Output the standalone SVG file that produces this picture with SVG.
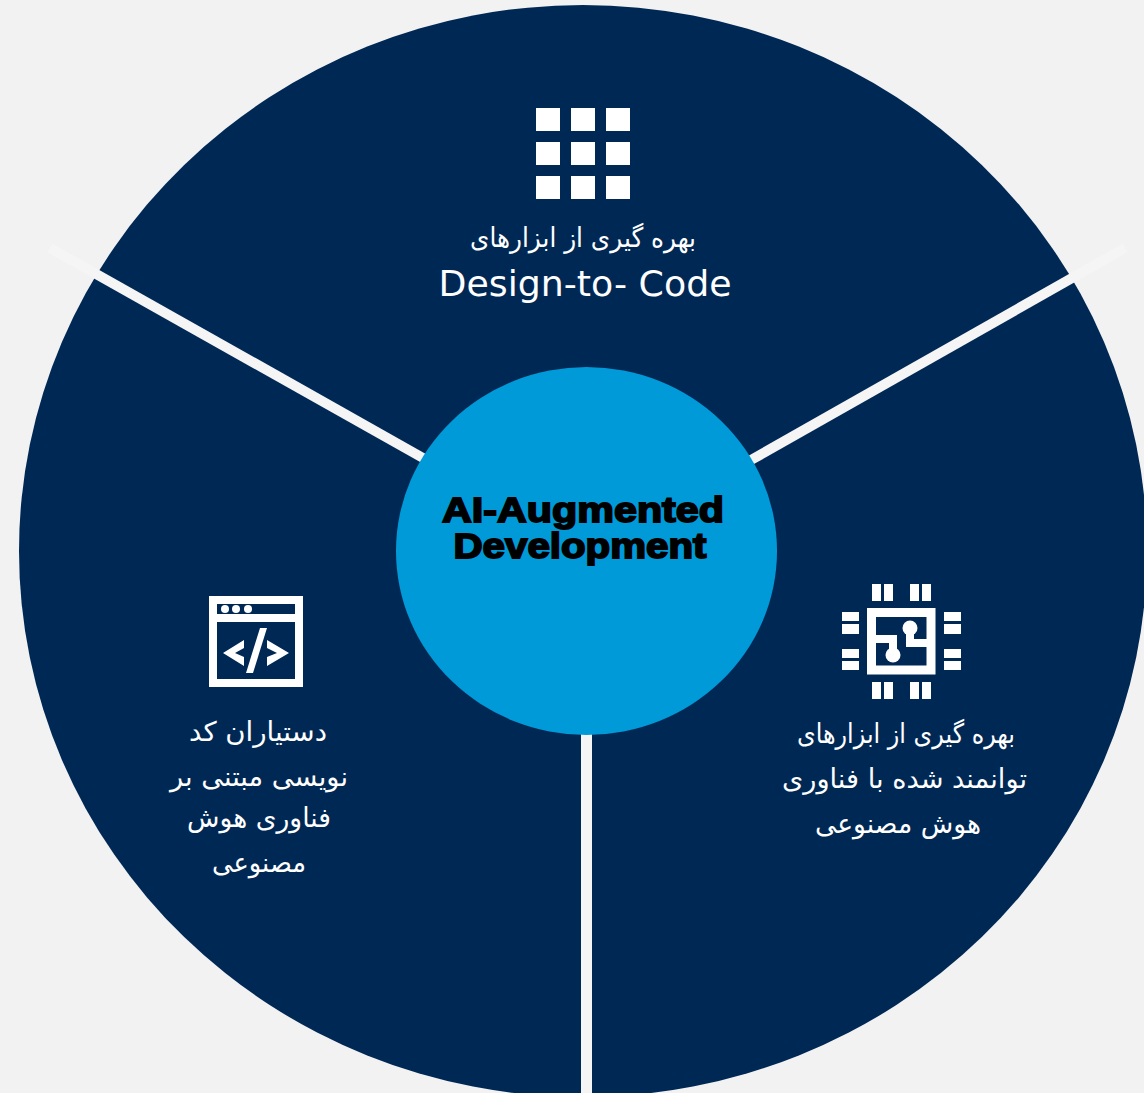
<svg xmlns="http://www.w3.org/2000/svg" width="1144" height="1093" viewBox="0 0 1144 1093">
<style>
.fa{font-family:"DejaVu Sans","Noto Sans",sans-serif;font-size:27px;fill:#fff;text-anchor:middle;direction:rtl}
.en{font-family:"DejaVu Sans",sans-serif;font-size:36px;fill:#fff;text-anchor:middle}
.ti{font-family:"Liberation Sans",Arial,sans-serif;font-weight:700;font-size:35px;fill:#000;stroke:#000;stroke-width:1.8px;text-anchor:middle}
.ic{fill:#fff}
.tr{fill:none;stroke:#fff;stroke-width:8}
.fr{fill:none;stroke:#fff;stroke-width:9}
.dv{stroke:#f5f5f5;fill:none}
</style>
<rect width="1144" height="1093" fill="#f2f2f2"/>
<ellipse id="disc" cx="583" cy="551" rx="564" ry="546" fill="#002855"/>
<g id="connectors">
<line class="dv" x1="423" y1="458" x2="50" y2="248" stroke-width="10"/>
<line class="dv" x1="751" y1="460" x2="1125" y2="248" stroke-width="10"/>
<line class="dv" x1="586.500" y1="730" x2="586.500" y2="1093" stroke-width="11"/>
</g>
<g id="node-centre">
<ellipse cx="586.500" cy="551" rx="190.500" ry="184" fill="#009ad9"/>
<text class="ti" x="583" y="522" textLength="282" lengthAdjust="spacingAndGlyphs">AI-Augmented</text>
<text class="ti" x="580" y="558" textLength="253" lengthAdjust="spacingAndGlyphs">Development</text>
</g>
<g id="node-design">
<g class="ic">
<rect x="536" y="108" width="24" height="23"/><rect x="571" y="108" width="24" height="23"/><rect x="606" y="108" width="24" height="23"/>
<rect x="536" y="142" width="24" height="23"/><rect x="571" y="142" width="24" height="23"/><rect x="606" y="142" width="24" height="23"/>
<rect x="536" y="176" width="24" height="23"/><rect x="571" y="176" width="24" height="23"/><rect x="606" y="176" width="24" height="23"/>
</g>
<text class="fa" x="583" y="247" textLength="226" lengthAdjust="spacingAndGlyphs">بهره گیری از ابزارهای</text>
<text class="en" x="585" y="296" textLength="293" lengthAdjust="spacingAndGlyphs">Design-to- Code</text>
</g>
<g id="node-tools">
<g class="ic">
<rect x="872" y="584" width="9" height="17"/><rect x="884" y="584" width="9" height="17"/><rect x="910" y="584" width="9" height="17"/><rect x="922" y="584" width="9" height="17"/>
<rect x="872" y="682" width="9" height="17"/><rect x="884" y="682" width="9" height="17"/><rect x="910" y="682" width="9" height="17"/><rect x="922" y="682" width="9" height="17"/>
<rect x="842" y="612" width="17" height="9"/><rect x="842" y="624" width="17" height="10"/><rect x="842" y="649" width="17" height="9"/><rect x="842" y="661" width="17" height="9"/>
<rect x="944" y="612" width="17" height="9"/><rect x="944" y="624" width="17" height="10"/><rect x="944" y="649" width="17" height="9"/><rect x="944" y="661" width="17" height="9"/>
<circle cx="910" cy="628" r="7.500"/><circle cx="893" cy="655" r="7.500"/>
</g>
<rect class="fr" x="871.500" y="612.500" width="59.500" height="57.500"/>
<path class="tr" d="M874 639H893V655"/>
<path class="tr" d="M910 628V643H929"/>
<text class="fa" x="906" y="743" textLength="218" lengthAdjust="spacingAndGlyphs">بهره گیری از ابزارهای</text>
<text class="fa" x="904.500" y="788" textLength="245" lengthAdjust="spacingAndGlyphs">توانمند شده با فناوری</text>
<text class="fa" x="898" y="833" textLength="166" lengthAdjust="spacingAndGlyphs">هوش مصنوعی</text>
</g>
<g id="node-assistants">
<rect x="213" y="600" width="86" height="83" fill="none" stroke="#fff" stroke-width="8"/>
<g class="ic">
<rect x="213" y="614" width="86" height="8"/>
<circle cx="225" cy="609" r="4"/><circle cx="236" cy="609" r="4"/><circle cx="248" cy="609" r="4"/>
<polygon points="244,640 223,653 244,666 244,657 235,653 244,648"/>
<polygon points="267,640 289,653 267,666 267,657 277,653 267,648"/>
<polygon points="260,628 267,628 253,673 246,673"/>
</g>
<text class="fa" x="258" y="741" textLength="138" lengthAdjust="spacingAndGlyphs">دستیاران کد</text>
<text class="fa" x="259" y="786" textLength="178" lengthAdjust="spacingAndGlyphs">نویسی مبتنی بر</text>
<text class="fa" x="259" y="827" textLength="144" lengthAdjust="spacingAndGlyphs">فناوری هوش</text>
<text class="fa" x="259" y="872" textLength="94" lengthAdjust="spacingAndGlyphs">مصنوعی</text>
</g>
</svg>
